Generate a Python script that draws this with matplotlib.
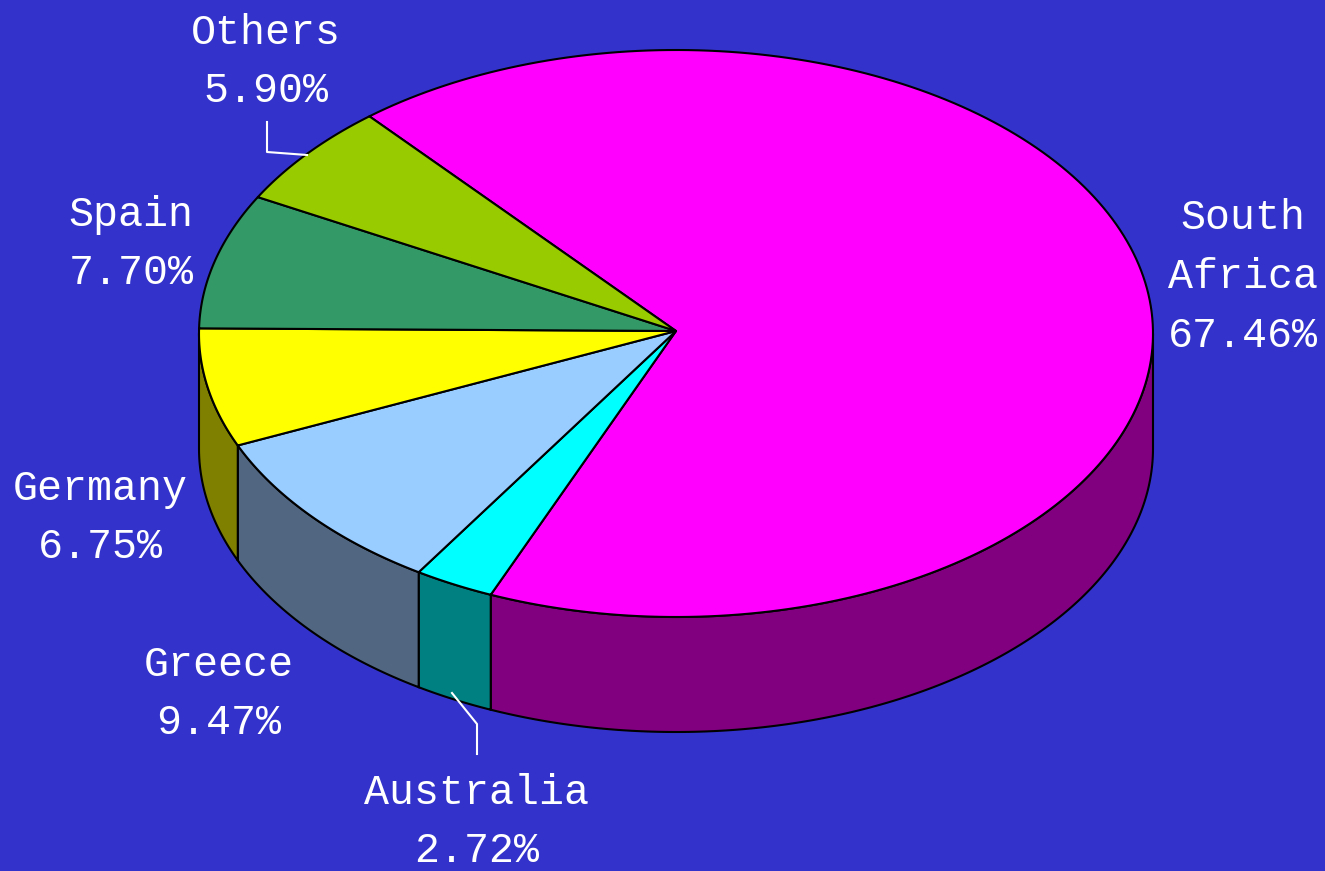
import numpy as np
import matplotlib
matplotlib.use("Agg")
import matplotlib.pyplot as plt
from matplotlib.patches import Polygon

# clockwise from the top, starting at South Africa
countries = ["South\nAfrica", "Australia", "Greece", "Germany", "Spain", "Others"]
shares = [67.46, 2.72, 9.47, 6.75, 7.70, 5.90]
top_colors = ["#FF00FF", "#00FFFF", "#99CCFF", "#FFFF00", "#339966", "#99CC00"]
side_colors = ["#800080", "#008080", "#516781", "#808000", "#1C5538", "#5A7800"]

start_angle = 130.0
cx, cy = 676, 333.5
apex_y = 331
rx, ry = 477, 283.5
depth = 115

fig = plt.figure(figsize=(13.25, 8.71), dpi=100, facecolor="#3333CC")
ax = fig.add_axes([0, 0, 1, 1])
ax.set_xlim(0, 1325)
ax.set_ylim(871, 0)
ax.axis("off")


def rim(a, b):
    # points on the ellipse, going clockwise from angle a to angle b
    t = np.radians(np.linspace(a, b, 200))
    return cx + rx * np.cos(t), cy - ry * np.sin(t)


sweeps = np.array(shares) * 360.0 / sum(shares)
ends = start_angle - np.cumsum(sweeps)
starts = ends + sweeps

# front walls first, only the part of each slice below the centre line
for a, b, col in zip(starts, ends, side_colors):
    a2, b2 = min(a, 0 if a > 0 else a), max(b, -180)
    if a2 <= b2:
        continue
    x, y = rim(a2, b2)
    pts = np.r_[np.c_[x, y], np.c_[x[::-1], y[::-1] + depth]]
    ax.add_patch(Polygon(pts, closed=True, fc=col, ec="black", lw=1.5, zorder=1))

# top of the pie
for a, b, col in zip(starts, ends, top_colors):
    x, y = rim(a, b)
    pts = np.r_[[[cx, apex_y]], np.c_[x, y]]
    ax.add_patch(Polygon(pts, closed=True, fc=col, ec="black", lw=1.5, zorder=2,
                         joinstyle="round"))

# leader lines
ax.plot([267, 267, 307], [122, 152, 155], color="white", lw=1.5, zorder=3)
ax.plot([452, 477, 477], [693, 724, 754], color="white", lw=1.5, zorder=3)

label_x = [1243, 477, 219, 100, 131, 266]
label_y = [277, 822, 694, 518, 244, 62]
for name, val, x, y in zip(countries, shares, label_x, label_y):
    ax.text(x, y, "%s\n%.2f%%" % (name, val), color="white", fontsize=30,
            family="Liberation Mono", ha="center", va="center", linespacing=1.6,
            zorder=4)

fig.savefig("out.png", dpi=100, facecolor=fig.get_facecolor())
